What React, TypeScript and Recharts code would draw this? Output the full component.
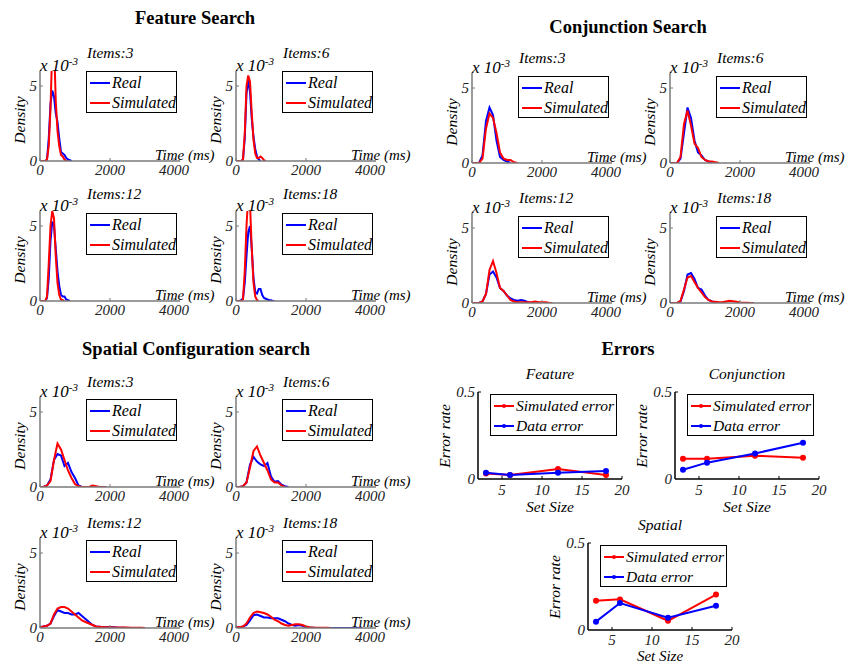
import { LineChart, Line, XAxis, YAxis, Legend } from 'recharts';

const SERIF = "'Liberation Serif', 'Times New Roman', serif";

// time grids (ms)
const featureT = [0, 50, 100, 150, 200, 250, 300, 350, 400, 450, 500, 550, 600, 650, 700, 750, 800, 850, 900, 950, 1000, 1050, 1100];
const conjT = [0, 100, 200, 300, 400, 500, 600, 700, 800, 900, 1000, 1100, 1200, 1300, 1400, 1500, 1600, 1700, 1800, 1900, 2000, 2100, 2200, 2300, 2400];
const spatialT = [0, 100, 200, 300, 400, 500, 600, 700, 800, 900, 1000, 1100, 1200, 1300, 1400, 1500, 1600, 1700, 1800, 1900, 2000, 2100, 2200, 2300, 2400, 2500, 2600, 2700, 2800, 2900, 3000, 3100, 3200, 3300, 3400, 3500, 3600, 3700];

// density (x 10^-3)
const feature3Real = [0, 0, 0, 0, 0.1, 1.5, 3.8, 4.7, 4.3, 3.2, 2.6, 1.5, 0.6, 0.5, 0.4, 0.2, 0.1, 0.05, 0];
const feature3Sim = [0, 0, 0, 0, 0.1, 1.0, 3.5, 7.5, 8.0, 4.0, 2.0, 1.0, 0.4, 0.3, 0.1, 0, 0];
const feature6Real = [0, 0, 0, 0, 0.1, 1.5, 4.5, 5.4, 4.6, 2.8, 1.6, 0.8, 0.3, 0.1, 0];
const feature6Sim = [0, 0, 0, 0, 0.1, 1.8, 5.0, 5.7, 5.3, 3.2, 1.4, 0.5, 0.2, 0.2, 0.3, 0.2, 0.05, 0];
const feature12Real = [0, 0, 0, 0, 0.2, 1.5, 4.0, 5.3, 5.0, 3.5, 2.0, 1.0, 0.4, 0.3, 0.3, 0.1, 0.05, 0];
const feature12Sim = [0, 0, 0, 0, 0.3, 2.5, 5.0, 6.0, 5.5, 3.0, 1.2, 0.4, 0.1, 0.05, 0];
const feature18Real = [0, 0, 0, 0.05, 0.2, 1.2, 3.0, 4.6, 5.0, 3.5, 1.5, 0.6, 0.5, 0.8, 0.8, 0.4, 0.2, 0.15, 0.1, 0.05, 0.05, 0, 0];
const feature18Sim = [0, 0, 0, 0, 0.1, 2.0, 5.0, 7.0, 6.5, 3.5, 1.2, 0.3, 0.05, 0];

const conj3Real = [0, 0, 0, 0.5, 2.8, 3.7, 3.2, 1.5, 0.4, 0.2, 0.1, 0];
const conj3Sim = [0, 0, 0, 0.3, 2.3, 3.3, 3.0, 2.0, 0.7, 0.3, 0.2, 0.2, 0.05, 0];
const conj6Real = [0, 0, 0, 0.3, 2.0, 3.7, 3.0, 1.5, 0.7, 0.5, 0.2, 0.1, 0];
const conj6Sim = [0, 0, 0, 0.4, 2.6, 3.5, 2.5, 1.3, 1.0, 0.4, 0.2, 0.1, 0.1, 0.05, 0];
const conj12Real = [0, 0, 0, 0.1, 0.6, 1.9, 2.1, 1.7, 1.0, 0.8, 0.5, 0.3, 0.2, 0.15, 0.2, 0.15, 0.05, 0];
const conj12Sim = [0, 0, 0, 0.1, 0.6, 2.2, 2.8, 2.0, 1.0, 0.8, 0.5, 0.2, 0.1, 0.05, 0.05, 0.05, 0.05, 0.05, 0.1, 0.05, 0.05, 0.05, 0.02, 0];
const conj18Real = [0, 0, 0, 0.1, 0.8, 1.9, 2.0, 1.6, 1.0, 0.9, 0.5, 0.2, 0.1, 0.05, 0.02, 0];
const conj18Sim = [0, 0, 0, 0.15, 0.9, 1.7, 1.8, 1.4, 1.0, 0.7, 0.4, 0.2, 0.1, 0.08, 0.05, 0.05, 0.1, 0.15, 0.12, 0.08, 0.04, 0.02, 0.01, 0, 0];

const spatial3Real = [0, 0, 0.1, 0.5, 1.8, 2.2, 2.1, 1.4, 1.6, 1.0, 0.6, 0.1, 0];
const spatial3Sim = [0, 0, 0.1, 0.4, 1.8, 2.9, 2.5, 1.8, 1.1, 0.6, 0.2, 0.05, 0, 0, 0, 0.1, 0.05, 0, 0, 0];
const spatial6Real = [0, 0, 0.05, 0.3, 1.5, 2.0, 1.7, 1.5, 1.4, 1.6, 0.7, 0.35, 0.4, 0.15, 0.05, 0];
const spatial6Sim = [0, 0, 0.05, 0.3, 1.3, 2.4, 2.7, 2.1, 1.6, 1.1, 0.5, 0.3, 0.3, 0.1, 0];
const spatial12Real = [0.05, 0.1, 0.15, 0.3, 0.8, 1.2, 1.1, 1.0, 1.0, 0.9, 0.9, 1.0, 0.8, 0.6, 0.4, 0.2, 0.1, 0.08, 0.05, 0.05, 0.05, 0.05, 0.03, 0.02, 0.01, 0];
const spatial12Sim = [0.05, 0.1, 0.15, 0.3, 0.9, 1.3, 1.4, 1.4, 1.3, 1.1, 0.9, 0.7, 0.5, 0.4, 0.3, 0.2, 0.1, 0.08, 0.05, 0.05, 0.05, 0.04, 0.04, 0.03, 0.03, 0.03, 0.02, 0.02, 0.02, 0.01, 0];
const spatial18Real = [0.05, 0.05, 0.1, 0.2, 0.5, 0.85, 0.9, 0.8, 0.7, 0.7, 0.65, 0.65, 0.65, 0.55, 0.45, 0.3, 0.2, 0.15, 0.2, 0.15, 0.05, 0.02, 0.01, 0, 0, 0, 0, 0, 0, 0, 0, 0, 0, 0, 0, 0, 0];
const spatial18Sim = [0.05, 0.05, 0.1, 0.3, 0.7, 1.0, 1.1, 1.05, 1.0, 0.9, 0.75, 0.55, 0.45, 0.3, 0.2, 0.15, 0.2, 0.25, 0.25, 0.2, 0.1, 0.05, 0.03, 0.02, 0.01, 0.01, 0.01, 0];

// error rates
const setSizes = [3, 6, 12, 18];
const featureSimErr = [0.032, 0.023, 0.057, 0.023];
const featureDataErr = [0.036, 0.023, 0.036, 0.046];
const conjSimErr = [0.116, 0.116, 0.134, 0.122];
const conjDataErr = [0.053, 0.094, 0.147, 0.208];
const spatialSimErr = [0.168, 0.176, 0.053, 0.204];
const spatialDataErr = [0.048, 0.155, 0.071, 0.139];

const timeTicks = [0, 2000, 4000];
const densityTicks = [0, 5];
const sizeTicks = [5, 10, 15, 20];
const errTicks = [0, 0.5];

const AXIS_GRAY = '#7a7a7a';
const PW = 140;
const PH = 90;

function Txt({ x, y, children, size = 15.5, bold = false, italic = true, align = 'left', rotate = false }: any) {
  const tx = align === 'center' ? '-50%' : align === 'right' ? '-100%' : '0';
  return (
    <div
      style={{
        position: 'absolute',
        left: x,
        top: y,
        transform: rotate ? 'translate(-50%,-50%) rotate(-90deg)' : `translate(${tx},-50%)`,
        fontSize: size,
        fontWeight: bold ? 'bold' : 'normal',
        fontStyle: italic ? 'italic' : 'normal',
        whiteSpace: 'nowrap',
        lineHeight: 1,
        color: '#000',
      }}
    >
      {children}
    </div>
  );
}

function makeLegend(order: string[], width: number, marker: boolean, fontSize: number) {
  return (props: any) => {
    const items = [...(props.payload || [])].sort((a: any, b: any) => order.indexOf(a.value) - order.indexOf(b.value));
    return (
      <div style={{ position: 'relative', width, height: 42, border: '1px solid #000', boxSizing: 'border-box', background: '#fff' }}>
        {items.map((it: any, i: number) => (
          <div key={it.value} style={{ position: 'absolute', left: 0, top: 11 + i * 20 }}>
            <div style={{ position: 'absolute', left: 3, top: -1, width: 20, height: 2, background: it.color }} />
            {marker && (
              <div style={{ position: 'absolute', left: 11, top: -2, width: 4, height: 4, borderRadius: 2, background: it.color }} />
            )}
            <div
              style={{
                position: 'absolute',
                left: 25,
                top: 0,
                transform: 'translateY(-50%)',
                fontSize,
                fontStyle: 'italic',
                fontFamily: SERIF,
                whiteSpace: 'nowrap',
                lineHeight: 1,
              }}
            >
              {it.value}
            </div>
          </div>
        ))}
      </div>
    );
  };
}

const densityLegend = makeLegend(['Real', 'Simulated'], 91, false, 16);
const errorLegend = makeLegend(['Simulated error', 'Data error'], 127, true, 15.5);

function xTick(color: string, dy: number, inner: number) {
  return (p: any) => (
    <g>
      <line x1={p.x} x2={p.x} y1={p.y} y2={p.y - inner} stroke={color} />
      <text x={p.x} y={p.y + dy} textAnchor="middle" fontSize={15} fontStyle="italic" fontFamily={SERIF} fill="#222">
        {p.payload.value}
      </text>
    </g>
  );
}

function yTick(color: string, inner: number) {
  return (p: any) => (
    <g>
      {p.payload.value !== 0 && <line x1={p.x} x2={p.x + inner} y1={p.y} y2={p.y} stroke={color} />}
      <text x={p.x - 3} y={p.y + 5} textAnchor="end" fontSize={15} fontStyle="italic" fontFamily={SERIF} fill="#222">
        {p.payload.value}
      </text>
    </g>
  );
}

function DensityPanel({ left, top, title, times, real, sim, legendTop = 1, titleDy = -16 }: any) {
  const data = times.map((t: number, i: number) => ({
    t,
    real: i < real.length ? real[i] : null,
    sim: i < sim.length ? sim[i] : null,
  }));
  return (
    <>
      <div style={{ position: 'absolute', left: left - 40, top: top - 10 }}>
        <LineChart width={40 + PW + 10} height={10 + PH + 30} data={data} margin={{ top: 10, right: 10, left: 0, bottom: 0 }}>
          <XAxis
            type="number"
            dataKey="t"
            domain={[0, 4000]}
            ticks={timeTicks}
            height={30}
            axisLine={{ stroke: AXIS_GRAY, strokeWidth: 1.5 }}
            tickLine={false}
            tickSize={0}
            tickMargin={0}
            tick={xTick(AXIS_GRAY, 14, 3)}
            allowDataOverflow
          />
          <YAxis
            type="number"
            domain={[0, 6]}
            ticks={densityTicks}
            width={40}
            axisLine={{ stroke: AXIS_GRAY, strokeWidth: 1.5 }}
            tickLine={false}
            tickSize={0}
            tickMargin={0}
            tick={yTick(AXIS_GRAY, 3)}
            allowDataOverflow
          />
          <Line name="Real" dataKey="real" stroke="#0000ff" strokeWidth={2} dot={false} isAnimationActive={false} type="linear" />
          <Line name="Simulated" dataKey="sim" stroke="#ff0000" strokeWidth={2} dot={false} isAnimationActive={false} type="linear" />
          <Legend
            layout="vertical"
            align="center"
            verticalAlign="middle"
            content={densityLegend}
            wrapperStyle={{ left: 86, top: 10 + legendTop, width: 91, height: 42 }}
          />
        </LineChart>
      </div>
      <Txt x={left + 47} y={top + titleDy}>{title}</Txt>
      <Txt x={left} y={top - 6} size={17}>
        x 10<sup style={{ fontSize: 11 }}>-3</sup>
      </Txt>
      <Txt x={left - 20} y={top + PH / 2 + 4} rotate>Density</Txt>
      <Txt x={left + 115} y={top + PH - 6} size={15}>Time (ms)</Txt>
    </>
  );
}

function ErrorPanel({ left, top, title, sim, real, sizeDy = 28, tickDy = 16, sizeFont = 15.5 }: any) {
  const w = 144;
  const h = 87;
  const data = setSizes.map((n, i) => ({ n, sim: sim[i], real: real[i] }));
  return (
    <>
      <div style={{ position: 'absolute', left: left - 50, top: top - 10 }}>
        <LineChart width={50 + w + 10} height={10 + h + 40} data={data} margin={{ top: 10, right: 10, left: 0, bottom: 0 }}>
          <XAxis
            type="number"
            dataKey="n"
            domain={[2, 20]}
            ticks={sizeTicks}
            height={40}
            axisLine={{ stroke: '#000', strokeWidth: 1.5 }}
            tickLine={false}
            tickSize={0}
            tickMargin={0}
            tick={xTick('#000', tickDy, 3)}
          />
          <XAxis xAxisId="top" orientation="top" type="number" dataKey="n" domain={[2, 20]} height={0} tick={false} tickLine={false} axisLine={{ stroke: '#000', strokeWidth: 1.5 }} />
          <YAxis
            type="number"
            domain={[0, 0.5]}
            ticks={errTicks}
            width={50}
            axisLine={{ stroke: '#000', strokeWidth: 1.5 }}
            tickLine={false}
            tickSize={0}
            tickMargin={0}
            tick={yTick('#000', 3)}
          />
          <YAxis yAxisId="right" orientation="right" type="number" domain={[0, 0.5]} width={0} tick={false} tickLine={false} axisLine={{ stroke: '#000', strokeWidth: 1.5 }} />
          <Line name="Simulated error" dataKey="sim" stroke="#ff0000" strokeWidth={2} dot={{ r: 2, fill: '#ff0000', stroke: '#ff0000' }} isAnimationActive={false} type="linear" />
          <Line name="Data error" dataKey="real" stroke="#0000ff" strokeWidth={2} dot={{ r: 2, fill: '#0000ff', stroke: '#0000ff' }} isAnimationActive={false} type="linear" />
          <Legend
            layout="vertical"
            align="center"
            verticalAlign="middle"
            content={errorLegend}
            wrapperStyle={{ left: 62, top: 12, width: 127, height: 42 }}
          />
        </LineChart>
      </div>
      <Txt x={left + w / 2} y={top - 18} align="center">{title}</Txt>
      <Txt x={left - 33} y={top + h / 2} rotate>Error rate</Txt>
      <Txt x={left + w / 2} y={top + h + sizeDy} size={sizeFont} align="center">Set Size</Txt>
    </>
  );
}

export default function App() {
  return (
    <div style={{ position: 'absolute', left: 0, top: 0, width: 847, height: 664, background: '#fff', fontFamily: SERIF, overflow: 'hidden' }}>
      <Txt x={195} y={18} size={18.5} bold italic={false} align="center">Feature Search</Txt>
      <Txt x={628} y={27} size={18.5} bold italic={false} align="center">Conjunction Search</Txt>
      <Txt x={196} y={349} size={18.5} bold italic={false} align="center">Spatial Configuration search</Txt>
      <Txt x={628} y={349} size={18.5} bold italic={false} align="center">Errors</Txt>

      <DensityPanel left={40} top={71} title="Items:3" times={featureT} real={feature3Real} sim={feature3Sim} legendTop={0} titleDy={-18} />
      <DensityPanel left={236} top={71} title="Items:6" times={featureT} real={feature6Real} sim={feature6Sim} legendTop={0} titleDy={-18} />
      <DensityPanel left={40} top={211} title="Items:12" times={featureT} real={feature12Real} sim={feature12Sim} legendTop={2} titleDy={-17} />
      <DensityPanel left={236} top={211} title="Items:18" times={featureT} real={feature18Real} sim={feature18Sim} legendTop={2} titleDy={-17} />

      <DensityPanel left={472} top={73} title="Items:3" times={conjT} real={conj3Real} sim={conj3Sim} legendTop={3} titleDy={-15.5} />
      <DensityPanel left={670} top={73} title="Items:6" times={conjT} real={conj6Real} sim={conj6Sim} legendTop={3} titleDy={-15.5} />
      <DensityPanel left={472} top={213} title="Items:12" times={conjT} real={conj12Real} sim={conj12Sim} legendTop={3} titleDy={-15.5} />
      <DensityPanel left={670} top={213} title="Items:18" times={conjT} real={conj18Real} sim={conj18Sim} legendTop={3} titleDy={-15.5} />

      <DensityPanel left={40} top={397} title="Items:3" times={spatialT} real={spatial3Real} sim={spatial3Sim} legendTop={2} titleDy={-15} />
      <DensityPanel left={236} top={397} title="Items:6" times={spatialT} real={spatial6Real} sim={spatial6Sim} legendTop={2} titleDy={-15} />
      <DensityPanel left={40} top={538} title="Items:12" times={spatialT} real={spatial12Real} sim={spatial12Sim} legendTop={2} titleDy={-15} />
      <DensityPanel left={236} top={538} title="Items:18" times={spatialT} real={spatial18Real} sim={spatial18Sim} legendTop={2} titleDy={-15} />

      <ErrorPanel left={478} top={392} title="Feature" sim={featureSimErr} real={featureDataErr} />
      <ErrorPanel left={675} top={392} title="Conjunction" sim={conjSimErr} real={conjDataErr} />
      <ErrorPanel left={588} top={543} title="Spatial" sim={spatialSimErr} real={spatialDataErr} sizeDy={26} tickDy={15} sizeFont={15} />
    </div>
  );
}
